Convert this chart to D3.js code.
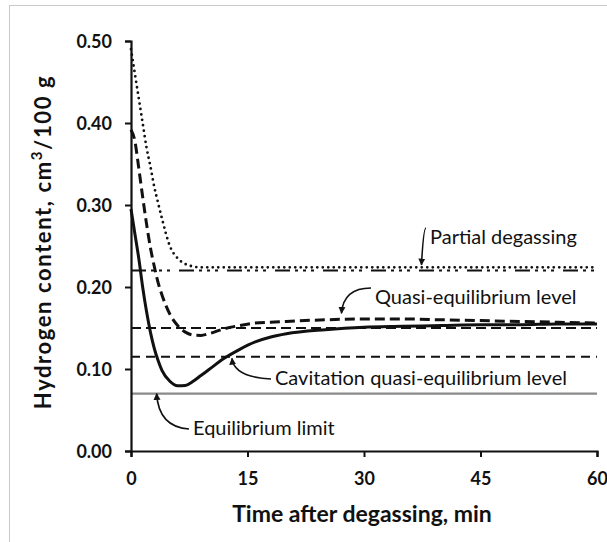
<!DOCTYPE html>
<html>
<head>
<meta charset="utf-8">
<script src="https://cdn.jsdelivr.net/npm/d3@7"></script>
<style>
  body { margin: 0; background: #fff; }
  text { font-family: Lato, "Open Sans", sans-serif; fill: #111; }
</style>
</head>
<body>
<script>
// time after degassing, min
var timeMin = [0, 0.5, 1, 1.5, 2, 2.5, 3, 3.5, 4, 5, 6, 7, 8, 9, 10, 12, 14, 16, 18, 20, 25, 30, 35, 40, 45, 50, 55, 60];
// solid curve (cavitation)
var solidH = [0.295, 0.265, 0.235, 0.2, 0.17, 0.145, 0.125, 0.11, 0.098, 0.085, 0.0795, 0.08, 0.085, 0.092, 0.099, 0.113, 0.124, 0.133, 0.139, 0.143, 0.148, 0.151, 0.152, 0.153, 0.154, 0.154, 0.155, 0.155];
// dashed curve
var dashedH = [0.392, 0.378, 0.345, 0.31, 0.277, 0.248, 0.225, 0.205, 0.19, 0.167, 0.153, 0.145, 0.1415, 0.141, 0.143, 0.149, 0.153, 0.156, 0.157, 0.158, 0.16, 0.161, 0.161, 0.16, 0.159, 0.158, 0.157, 0.156];
// dotted curve (partial degassing)
var dottedH = [0.49, 0.46, 0.43, 0.4, 0.37, 0.347, 0.322, 0.302, 0.283, 0.25, 0.235, 0.228, 0.225, 0.224, 0.224, 0.224, 0.224, 0.224, 0.224, 0.224, 0.224, 0.224, 0.224, 0.224, 0.224, 0.224, 0.224, 0.224];

var levelNames = ["Partial degassing", "Quasi-equilibrium level", "Cavitation quasi-equilibrium level", "Equilibrium limit"];
var levelValues = [0.22, 0.15, 0.115, 0.07];
// where each arrow points (time, content)
var arrowTipT = [37.4, 27.1, 13.0, 3.3];
var arrowTipH = [0.227, 0.168, 0.113, 0.07];

var xTicks = [0, 15, 30, 45, 60];
var yTicks = [0, 0.1, 0.2, 0.3, 0.4, 0.5];

var svg = d3.select("body").append("svg")
.attr("width", 607)
.attr("height", 542);

// frame
svg.append("rect")
.attr("x", 9.5).attr("y", 5.5)
.attr("width", 700).attr("height", 700)
.attr("fill", "none")
.attr("stroke", "#c8c8c8");

var x = d3.scaleLinear().domain([0, 60]).range([131, 597]);
var y = d3.scaleLinear().domain([0, 0.5]).range([451, 41]);

var defs = svg.append("defs");
defs.append("marker")
.attr("id", "head")
.attr("viewBox", "0 0 10 10")
.attr("refX", 9).attr("refY", 5)
.attr("markerWidth", 7).attr("markerHeight", 8)
.attr("markerUnits", "userSpaceOnUse")
.attr("orient", "auto")
.append("path")
.attr("d", "M0,0 L10,5 L0,10 Z")
.attr("fill", "#111");

// level lines
var levelStyle = [
  { dash: "15,5,3,5,3,5,3,9", color: "#111", w: 2 },
  { dash: "10,5", color: "#111", w: 2 },
  { dash: "9,6", color: "#111", w: 2 },
  { dash: null, color: "#8a8a8a", w: 2.2 }
];
levelValues.forEach(function(v, i) {
  svg.append("line")
  .attr("x1", x(0)).attr("x2", x(60))
  .attr("y1", y(v)).attr("y2", y(v))
  .attr("stroke", levelStyle[i].color)
  .attr("stroke-width", levelStyle[i].w)
  .attr("stroke-dasharray", levelStyle[i].dash);
});

var line = d3.line()
.x(function(d) { return x(d[0]); })
.y(function(d) { return y(d[1]); })
.curve(d3.curveMonotoneX);

function series(vals) {
  return timeMin.map(function(t, i) { return [t, vals[i]]; });
}

svg.append("path")
.attr("d", line(series(dottedH)))
.attr("fill", "none")
.attr("stroke", "#111")
.attr("stroke-width", 2.8)
.attr("stroke-linecap", "round")
.attr("stroke-dasharray", "0,5.5");

svg.append("path")
.attr("d", line(series(dashedH)))
.attr("fill", "none")
.attr("stroke", "#111")
.attr("stroke-width", 3)
.attr("stroke-dasharray", "10,5");

svg.append("path")
.attr("d", line(series(solidH)))
.attr("fill", "none")
.attr("stroke", "#111")
.attr("stroke-width", 3);

// axes
var xAxis = svg.append("g")
.attr("transform", "translate(0," + y(0) + ")")
.call(d3.axisBottom(x).tickValues(xTicks).tickSize(6).tickPadding(14).tickFormat(d3.format("d")));
var yAxis = svg.append("g")
.attr("transform", "translate(" + x(0) + ",0)")
.call(d3.axisLeft(y).tickValues(yTicks).tickSize(6).tickPadding(13).tickFormat(d3.format(".2f")));
[xAxis, yAxis].forEach(function(g) {
  g.select(".domain").attr("stroke", "#111").attr("stroke-width", 2.2);
  g.selectAll(".tick line").attr("stroke", "#111").attr("stroke-width", 2);
  g.selectAll(".tick text")
  .style("font-family", "Lato, sans-serif")
  .style("font-size", "18px")
  .style("font-weight", "bold")
  .attr("fill", "#111");
});
xAxis.selectAll(".tick text").attr("dy", "0.75em");
yAxis.selectAll(".tick text").attr("dy", "0.35em");

// axis titles
svg.append("text")
.attr("x", 362).attr("y", 522)
.attr("text-anchor", "middle")
.style("font-size", "23px")
.style("font-weight", "bold")
.text("Time after degassing, min");

var yt = svg.append("text")
.attr("transform", "translate(51,242) rotate(-90)")
.attr("text-anchor", "middle")
.style("font-size", "22px")
.style("font-weight", "bold")
.style("letter-spacing", "1.6px");
yt.append("tspan").text("Hydrogen content, cm");
yt.append("tspan").attr("dy", -9).style("font-size", "15px").text("3");
yt.append("tspan").attr("dy", 9).text("/100 g");

// annotations: text start (px) and arrow path from text to tip
var labelX = [430, 375, 275, 193];
var labelY = [237, 297, 378, 428];
levelNames.forEach(function(name, i) {
  var tx = x(arrowTipT[i]), ty = y(arrowTipH[i]);
  var sx = labelX[i] - 4, sy = labelY[i] + 1;
  var path;
  if (i < 2) {
    // arrow from text going left then down to the tip
    path = "M" + sx + "," + (sy - 10) + " Q" + (tx + 2) + "," + (sy - 10) + " " + tx + "," + ty;
  } else {
    // arrow from text going left then up to the tip
    path = "M" + sx + "," + sy + " Q" + (tx + 2) + "," + (sy - 2) + " " + tx + "," + ty;
  }
  svg.append("path")
  .attr("d", path)
  .attr("fill", "none")
  .attr("stroke", "#111")
  .attr("stroke-width", 1.6)
  .attr("marker-end", "url(#head)");
  svg.append("text")
  .attr("x", labelX[i]).attr("y", labelY[i])
  .attr("dy", "0.35em")
  .style("font-size", "20px")
  .text(name);
});
</script>
</body>
</html>
